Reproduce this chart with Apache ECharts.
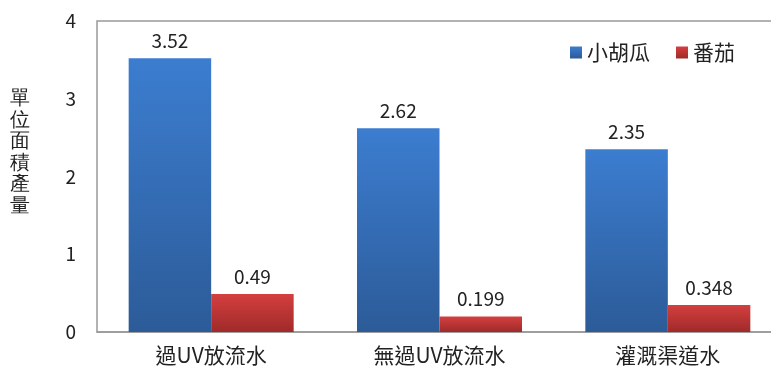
<!DOCTYPE html>
<html><head><meta charset="utf-8">
<script src="https://cdn.jsdelivr.net/npm/echarts@6/dist/echarts.min.js"></script>
<style>html,body{margin:0;padding:0;background:#fff}#c{width:771px;height:367px}</style>
</head><body><div id="c"></div>
<script>
const categories = ['過UV放流水', '無過UV放流水', '灌溉渠道水'];
const cucumber = [3.52, 2.62, 2.35];
const tomato = [0.49, 0.199, 0.348];
const seriesNames = ['小胡瓜', '番茄'];
const yAxisName = '單位面積產量';

const font = '"Noto Sans CJK TC", "Noto Sans", sans-serif';
const chart = echarts.init(document.getElementById('c'));
function grad(top, bottom) {
  return new echarts.graphic.LinearGradient(0, 0, 0, 1, [{offset: 0, color: top}, {offset: 1, color: bottom}]);
}
const lbl = {show: true, position: 'top', distance: 8, color: '#222', fontSize: 19, fontFamily: font};
chart.setOption({
  animation: false,
  grid: {left: 97, top: 21, width: 685, bottom: 35, show: true, borderColor: '#999', borderWidth: 1.5,
         backgroundColor: 'transparent', outerBoundsMode: 'none', containLabel: false},
  legend: {
    right: 31, top: 37, itemWidth: 12, itemHeight: 12, itemGap: 26, icon: 'rect',
    textStyle: {fontSize: 21, color: '#222', fontFamily: font},
    data: seriesNames
  },
  graphic: [{
    type: 'text', left: 10, top: 88,
    style: {text: yAxisName.split('').join('\n'), fontSize: 20, lineHeight: 21.5, fill: '#222', font: '20px ' + font}
  }],
  xAxis: {
    type: 'category', data: categories,
    axisLine: {lineStyle: {color: '#999', width: 1.5}},
    axisTick: {show: false},
    axisLabel: {fontSize: 21, color: '#222', margin: 13, fontFamily: font}
  },
  yAxis: {
    type: 'value', min: 0, max: 4, interval: 1,
    splitLine: {show: false},
    axisLine: {show: false}, axisTick: {show: false},
    axisLabel: {fontSize: 19, color: '#222', margin: 21, fontFamily: font}
  },
  series: [
    {name: seriesNames[0], type: 'bar', data: cucumber, barWidth: 82.5, barGap: '0%',
     itemStyle: {color: grad('#3c7dd0', '#2c5b98')}, label: lbl},
    {name: seriesNames[1], type: 'bar', data: tomato, barWidth: 82.5,
     itemStyle: {color: grad('#d43f3f', '#a02a2a')}, label: lbl}
  ]
});
</script></body></html>
